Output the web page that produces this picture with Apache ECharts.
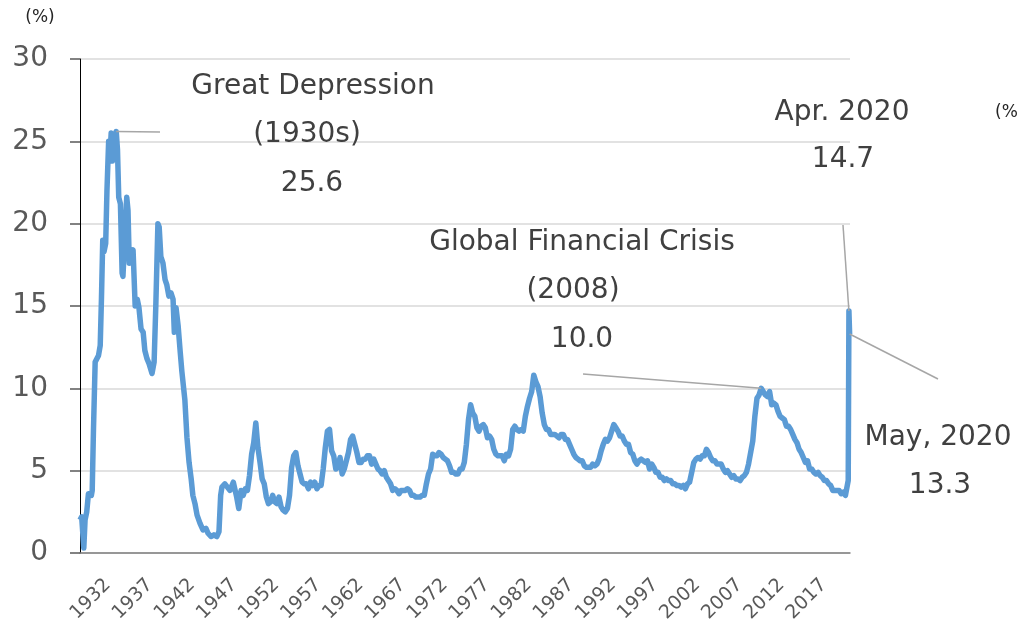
<!DOCTYPE html>
<html>
<head>
<meta charset="utf-8">
<script src="https://cdn.jsdelivr.net/npm/echarts@6/dist/echarts.min.js"></script>
<style>
  html, body { margin: 0; padding: 0; background: #fff; }
  #main { width: 1018px; height: 620px; }
</style>
</head>
<body>
<div id="main"></div>
<script>
// 1929-1947 (decimal year, %)
const earlyYears = [
  1929.0, 1929.2, 1929.45, 1929.6, 1929.8, 1930.0, 1930.35, 1930.45, 1930.6, 1930.8,
  1931.0, 1931.2, 1931.4, 1931.55, 1931.7, 1931.85, 1932.05, 1932.2, 1932.4, 1932.55,
  1932.7, 1932.85, 1933.0, 1933.15, 1933.3, 1933.45, 1933.6, 1933.8, 1934.0, 1934.1,
  1934.35, 1934.55, 1934.7, 1934.85, 1935.05, 1935.3, 1935.55, 1935.8, 1936.0, 1936.25,
  1936.5, 1936.7, 1936.95, 1937.2, 1937.55, 1937.8, 1938.0, 1938.25, 1938.4, 1938.6,
  1938.85, 1939.1, 1939.3, 1939.55, 1939.8, 1940.05, 1940.2, 1940.4, 1940.65, 1940.9,
  1941.1, 1941.45, 1941.7, 1941.95, 1942.2, 1942.4, 1942.65, 1942.9, 1943.25, 1943.6,
  1943.95, 1944.2, 1944.55, 1944.9, 1945.25, 1945.5, 1945.7, 1945.85, 1946.2, 1946.5,
  1946.8, 1947.2, 1947.6, 1947.85
];
const earlyRates = [
  2.0, 2.2, 0.3, 2.0, 2.5, 3.6, 3.5, 3.8, 7.5, 11.6,
  11.8, 12.0, 12.6, 15.5, 19.0, 18.3, 18.8, 22.0, 25.0, 24.0,
  25.5, 23.8, 25.2, 24.0, 25.6, 24.5, 21.6, 21.2, 17.0, 16.8,
  19.5, 21.6, 20.8, 17.6, 18.2, 18.4, 15.0, 15.4, 14.9, 13.6,
  13.4, 12.3, 11.8, 11.5, 10.9, 11.6, 15.0, 20.0, 19.8, 18.0,
  17.6, 16.6, 16.3, 15.6, 15.8, 15.4, 13.4, 14.9, 13.8, 12.2,
  11.0, 9.3, 7.0, 5.5, 4.5, 3.5, 3.0, 2.3, 1.8, 1.4,
  1.5, 1.2, 1.0, 1.1, 1.0, 1.3, 3.5, 4.0, 4.2, 4.0,
  3.8, 4.3, 3.4, 2.7
];

// quarterly values (4 per year)
const rates1948 = [3.8, 3.5, 3.9, 3.8, 4.7, 6.0, 6.7, 7.9];
const rates1950s = [
  6.4, 5.5, 4.5, 4.2,  3.4, 3.0, 3.1, 3.5,  3.1, 3.0, 3.4, 2.8,  2.6, 2.5, 2.7, 3.5,
  5.2, 5.9, 6.1, 5.3,  4.8, 4.3, 4.2, 4.2,  3.9, 4.3, 4.1, 4.3,  3.9, 4.1, 4.1, 5.1,
  6.4, 7.4, 7.5, 6.2,  5.9, 5.1, 5.2, 5.8
];
const rates1960s = [
  4.8, 5.1, 5.6, 6.1,  6.9, 7.1, 6.6, 6.1,  5.5, 5.5, 5.7, 5.7,  5.9, 5.9, 5.4, 5.7,
  5.4, 5.1, 5.0, 4.8,  5.0, 4.6, 4.4, 4.2,  3.8, 3.9, 3.8, 3.6,  3.8, 3.8, 3.8, 3.9,
  3.8, 3.5, 3.5, 3.4,  3.4, 3.4, 3.5, 3.5
];
const rates1970s = [
  4.2, 4.8, 5.1, 6.0,  5.9, 5.9, 6.1, 6.0,  5.8, 5.7, 5.6, 5.3,  4.9, 4.9, 4.8, 4.8,
  5.1, 5.1, 5.5, 6.6,  8.1, 9.0, 8.5, 8.3,  7.6, 7.4, 7.7, 7.8,  7.6, 7.0, 7.1, 6.9,
  6.3, 6.0, 5.9, 5.9,  5.9, 5.6, 6.0, 5.9
];
const rates1980s = [
  6.3, 7.5, 7.7, 7.5,  7.4, 7.5, 7.4, 8.3,  8.9, 9.4, 9.8, 10.8,  10.4, 10.1, 9.5, 8.5,
  7.8, 7.5, 7.5, 7.2,  7.2, 7.2, 7.1, 7.0,  7.2, 7.2, 6.9, 6.9,  6.6, 6.3, 6.0, 5.8,
  5.7, 5.6, 5.6, 5.3,  5.2, 5.2, 5.2, 5.4
];
const rates1990s = [
  5.3, 5.4, 5.7, 6.2,  6.6, 6.9, 6.8, 7.0,  7.4, 7.8, 7.6, 7.4,  7.1, 7.1, 6.8, 6.6,
  6.6, 6.1, 6.0, 5.6,  5.4, 5.6, 5.7, 5.6,  5.5, 5.6, 5.1, 5.4,  5.2, 4.9, 4.9, 4.6,
  4.6, 4.4, 4.5, 4.4,  4.4, 4.2, 4.2, 4.1
];
const rates2000s = [
  4.1, 4.0, 4.1, 3.9,  4.2, 4.3, 4.9, 5.5,  5.7, 5.8, 5.7, 5.9,  5.9, 6.3, 6.1, 5.8,
  5.6, 5.6, 5.4, 5.4,  5.4, 5.1, 4.9, 5.0,  4.8, 4.6, 4.7, 4.5,  4.5, 4.4, 4.6, 4.7,
  4.9, 5.4, 6.1, 6.8,  8.3, 9.4, 9.6, 10.0
];
const rates2010s = [
  9.8, 9.6, 9.5, 9.8,  9.0, 9.1, 9.0, 8.6,  8.3, 8.2, 8.1, 7.7,  7.7, 7.5, 7.2, 6.9,
  6.7, 6.3, 6.1, 5.8,  5.5, 5.6, 5.1, 5.1,  4.9, 4.8, 4.9, 4.7,  4.6, 4.4, 4.4, 4.2,
  4.1, 3.8, 3.8, 3.8,  3.8, 3.6, 3.7, 3.5
];
// monthly, Jan-May 2020
const rates2020 = [3.5, 3.5, 4.4, 14.7, 13.3];

const labelYears = [1932, 1937, 1942, 1947, 1952, 1957, 1962, 1967, 1972, 1977,
  1982, 1987, 1992, 1997, 2002, 2007, 2012, 2017];

const FONT = "'DejaVu Sans', Verdana, sans-serif";
const LINE_COLOR = '#5B9BD5';
const TEXT_COLOR = '#404040';

// 系列データを組み立てる
const seriesData = [];
earlyYears.forEach((y, i) => seriesData.push([y, earlyRates[i]]));
const quarterly = [
  [1948, rates1948], [1950, rates1950s], [1960, rates1960s], [1970, rates1970s],
  [1980, rates1980s], [1990, rates1990s], [2000, rates2000s], [2010, rates2010s]
];
quarterly.forEach(([start, arr]) => {
  arr.forEach((v, i) => seriesData.push([start + Math.floor(i / 4) + (i % 4) * 0.25 + 0.125, v]));
});
rates2020.forEach((v, m) => seriesData.push([2020 + (m + 0.5) / 12, v]));

const chart = echarts.init(document.getElementById('main'));

const option = {
  animation: false,
  backgroundColor: '#fff',
  grid: {
    left: 80,
    right: 168,
    top: 59,
    bottom: 67,
    containLabel: false,
    outerBoundsMode: 'none'
  },
  xAxis: {
    type: 'value',
    min: 1929,
    max: 2020.42,
    axisLine: { show: true, onZero: false, lineStyle: { color: '#7f7f7f', width: 1.5 } },
    axisTick: { show: false },
    splitLine: { show: false },
    axisLabel: { show: false }   // 年ラベルは下で斜めに描く
  },
  yAxis: {
    type: 'value',
    min: 0,
    max: 30,
    interval: 5,
    axisLine: { show: true, lineStyle: { color: '#000', width: 1 } },
    axisTick: { show: true, length: 10, lineStyle: { color: '#595959', width: 1.5 } },
    splitLine: { show: true, lineStyle: { color: '#d9d9d9', width: 1.5 } },
    axisLabel: {
      margin: 32,
      color: '#595959',
      fontSize: 28,
      fontFamily: FONT
    }
  },
  series: [{
    type: 'line',
    data: seriesData,
    showSymbol: false,
    lineStyle: { color: LINE_COLOR, width: 5.5, join: 'round' },
    itemStyle: { color: LINE_COLOR }
  }]
};

chart.setOption(option);

// 注記（テキストと引き出し線）
const toPx = (pt) => chart.convertToPixel({ gridIndex: 0 }, pt);
const peakIdx = earlyRates.indexOf(Math.max(...earlyRates));
const depressionPt = toPx([earlyYears[peakIdx], earlyRates[peakIdx]]);
const gfcIdx = rates2000s.indexOf(Math.max(...rates2000s));
const gfcPt = toPx([2000 + Math.floor(gfcIdx / 4) + (gfcIdx % 4) * 0.25 + 0.125, rates2000s[gfcIdx]]);
const aprPt = toPx([2020 + 3.5 / 12, rates2020[3]]);
const mayPt = toPx([2020 + 4.5 / 12, rates2020[4]]);

function label(text, x, y, size, color, align) {
  return {
    type: 'text', x, y, z: 100,
    style: {
      text,
      fill: color || TEXT_COLOR,
      font: `${size || 28}px ${FONT}`,
      align: align || 'center',
      verticalAlign: 'middle'
    }
  };
}
function leader(p, x2, y2) {
  return {
    type: 'line', z: 90,
    shape: { x1: p[0], y1: p[1], x2, y2 },
    style: { stroke: '#a6a6a6', lineWidth: 1.5 }
  };
}

// x軸の年ラベル（45度回転）
const axisY = toPx([1929, 0])[1];
const yearLabels = labelYears.map(y => ({
  type: 'text',
  x: toPx([y + 0.3, 0])[0],
  y: axisY + 29,
  rotation: Math.PI / 4,
  z: 100,
  style: {
    text: String(y),
    fill: '#595959',
    font: `19px ${FONT}`,
    align: 'right',
    verticalAlign: 'middle'
  }
}));

chart.setOption({
  graphic: [
    ...yearLabels,
    label('(%)', 40, 18, 17, '#262626'),
    label('(%)', 995, 113, 17, '#262626', 'left'),
    label('Great Depression', 313, 87),
    label('(1930s)', 307, 135),
    label('25.6', 312, 184),
    leader(depressionPt, 160, 132),
    label('Global Financial Crisis', 582, 243),
    label('(2008)', 573, 291),
    label('10.0', 582, 340),
    leader(gfcPt, 583, 374),
    label('Apr. 2020', 842, 113),
    label('14.7', 843, 160),
    leader(aprPt, 843, 225),
    label('May, 2020', 938, 438),
    label('13.3', 940, 486),
    leader(mayPt, 938, 379)
  ]
});
</script>
</body>
</html>
